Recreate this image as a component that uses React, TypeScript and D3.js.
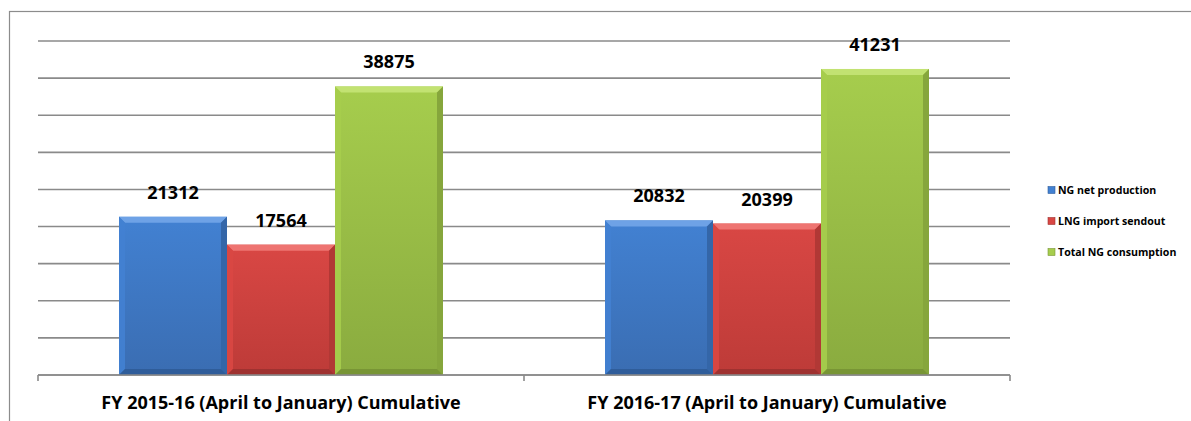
import React from "react";
import * as d3 from "d3";

const categories = [
  "FY 2015-16 (April to January) Cumulative",
  "FY 2016-17 (April to January) Cumulative",
];
const seriesNames = ["NG net production", "LNG import sendout", "Total NG consumption"];
const ngNetProduction = [21312, 20832];
const lngImportSendout = [17564, 20399];
const totalNgConsumption = [38875, 41231];
const yTicks = [0, 5000, 10000, 15000, 20000, 25000, 30000, 35000, 40000, 45000];

const seriesValues = [ngNetProduction, lngImportSendout, totalNgConsumption];

const palette = [
  { top: "#6ea2e6", main1: "#4281d2", main2: "#3a6db2", side: "#3466a8", bottom: "#2f5d9a" },
  { top: "#ee7471", main1: "#d94744", main2: "#bd3b38", side: "#b13835", bottom: "#9f3230" },
  { top: "#c2e272", main1: "#a6cd4d", main2: "#8aab3f", side: "#86a63c", bottom: "#789535" },
];

const W = 1191;
const H = 421;
const plotLeft = 38;
const plotRight = 1010;
const plotTop = 41;
const plotBottom = 375;

export default function App() {
  const x0 = d3.scaleBand<string>().domain(categories).range([plotLeft, plotRight]).padding(0);
  const x1 = d3
    .scaleBand<string>()
    .domain(seriesNames)
    .range([0, x0.bandwidth()])
    .paddingInner(0)
    .paddingOuter(0.75);
  const y = d3.scaleLinear().domain([0, 45000]).range([plotBottom, plotTop]);

  const font = "'Open Sans', 'Liberation Sans', sans-serif";
  const bevel = 6;

  return (
    <svg
      width={W}
      height={H}
      style={{ position: "absolute", left: 0, top: 0, background: "#fff" }}
    >
      <defs>
        {palette.map((p, i) => (
          <linearGradient key={i} id={`g${i}`} x1="0" y1="0" x2="0" y2="1">
            <stop offset="0" stopColor={p.main1} />
            <stop offset="1" stopColor={p.main2} />
          </linearGradient>
        ))}
      </defs>
      <rect x={9.5} y={11.5} width={W} height={H} fill="none" stroke="#8c8c8c" strokeWidth={1.2} />
      {yTicks.map((t) => (
        <line
          key={t}
          x1={plotLeft}
          x2={plotRight}
          y1={y(t)}
          y2={y(t)}
          stroke="#8a8a8a"
          strokeWidth={1.6}
        />
      ))}
      {[plotLeft, ...categories.map((c) => (x0(c) as number) + x0.bandwidth())].map((xv, i) => (
        <line key={i} x1={xv} x2={xv} y1={plotBottom} y2={plotBottom + 6} stroke="#8a8a8a" strokeWidth={1.6} />
      ))}
      {categories.map((c, ci) =>
        seriesNames.map((s, si) => {
          const v = seriesValues[si][ci];
          const bx = (x0(c) as number) + (x1(s) as number);
          const bw = x1.bandwidth();
          const by = y(v);
          const bh = plotBottom - by;
          const p = palette[si];
          const b = bevel;
          return (
            <g key={`${ci}-${si}`}>
              <rect x={bx} y={by} width={bw} height={bh} fill={`url(#g${si})`} />
              <polygon
                points={`${bx},${by} ${bx + bw},${by} ${bx + bw - b},${by + b} ${bx + b},${by + b}`}
                fill={p.top}
              />
              <polygon
                points={`${bx},${by} ${bx + b},${by + b} ${bx + b},${plotBottom - b} ${bx},${plotBottom}`}
                fill={p.main1}
                opacity={0.9}
              />
              <polygon
                points={`${bx + bw},${by} ${bx + bw - b},${by + b} ${bx + bw - b},${plotBottom - b} ${bx + bw},${plotBottom}`}
                fill={p.side}
              />
              <polygon
                points={`${bx},${plotBottom} ${bx + b},${plotBottom - b} ${bx + bw - b},${plotBottom - b} ${bx + bw},${plotBottom}`}
                fill={p.bottom}
              />
              <text
                x={bx + bw / 2}
                y={by - 18}
                textAnchor="middle"
                fontFamily={font}
                fontWeight={700}
                fontSize={18}
                fill="#000"
              >
                {v}
              </text>
            </g>
          );
        })
      )}
      <line x1={plotLeft} x2={plotRight} y1={plotBottom} y2={plotBottom} stroke="#8a8a8a" strokeWidth={1.6} />
      {categories.map((c) => (
        <text
          key={c}
          x={(x0(c) as number) + x0.bandwidth() / 2}
          y={409}
          textAnchor="middle"
          fontFamily={font}
          fontWeight={700}
          fontSize={18}
          fill="#000"
        >
          {c}
        </text>
      ))}
      {seriesNames.map((s, i) => {
        const ly = [190, 221, 252][i];
        return (
          <g key={s}>
            <rect x={1048} y={ly - 3.5} width={7} height={7} fill={palette[i].main1} stroke={palette[i].bottom} strokeWidth={0.6} />
            <text
              x={1058}
              y={ly + 3.8}
              fontFamily={font}
              fontWeight={700}
              fontSize={10.6}
              fill="#000"
            >
              {s}
            </text>
          </g>
        );
      })}
    </svg>
  );
}
